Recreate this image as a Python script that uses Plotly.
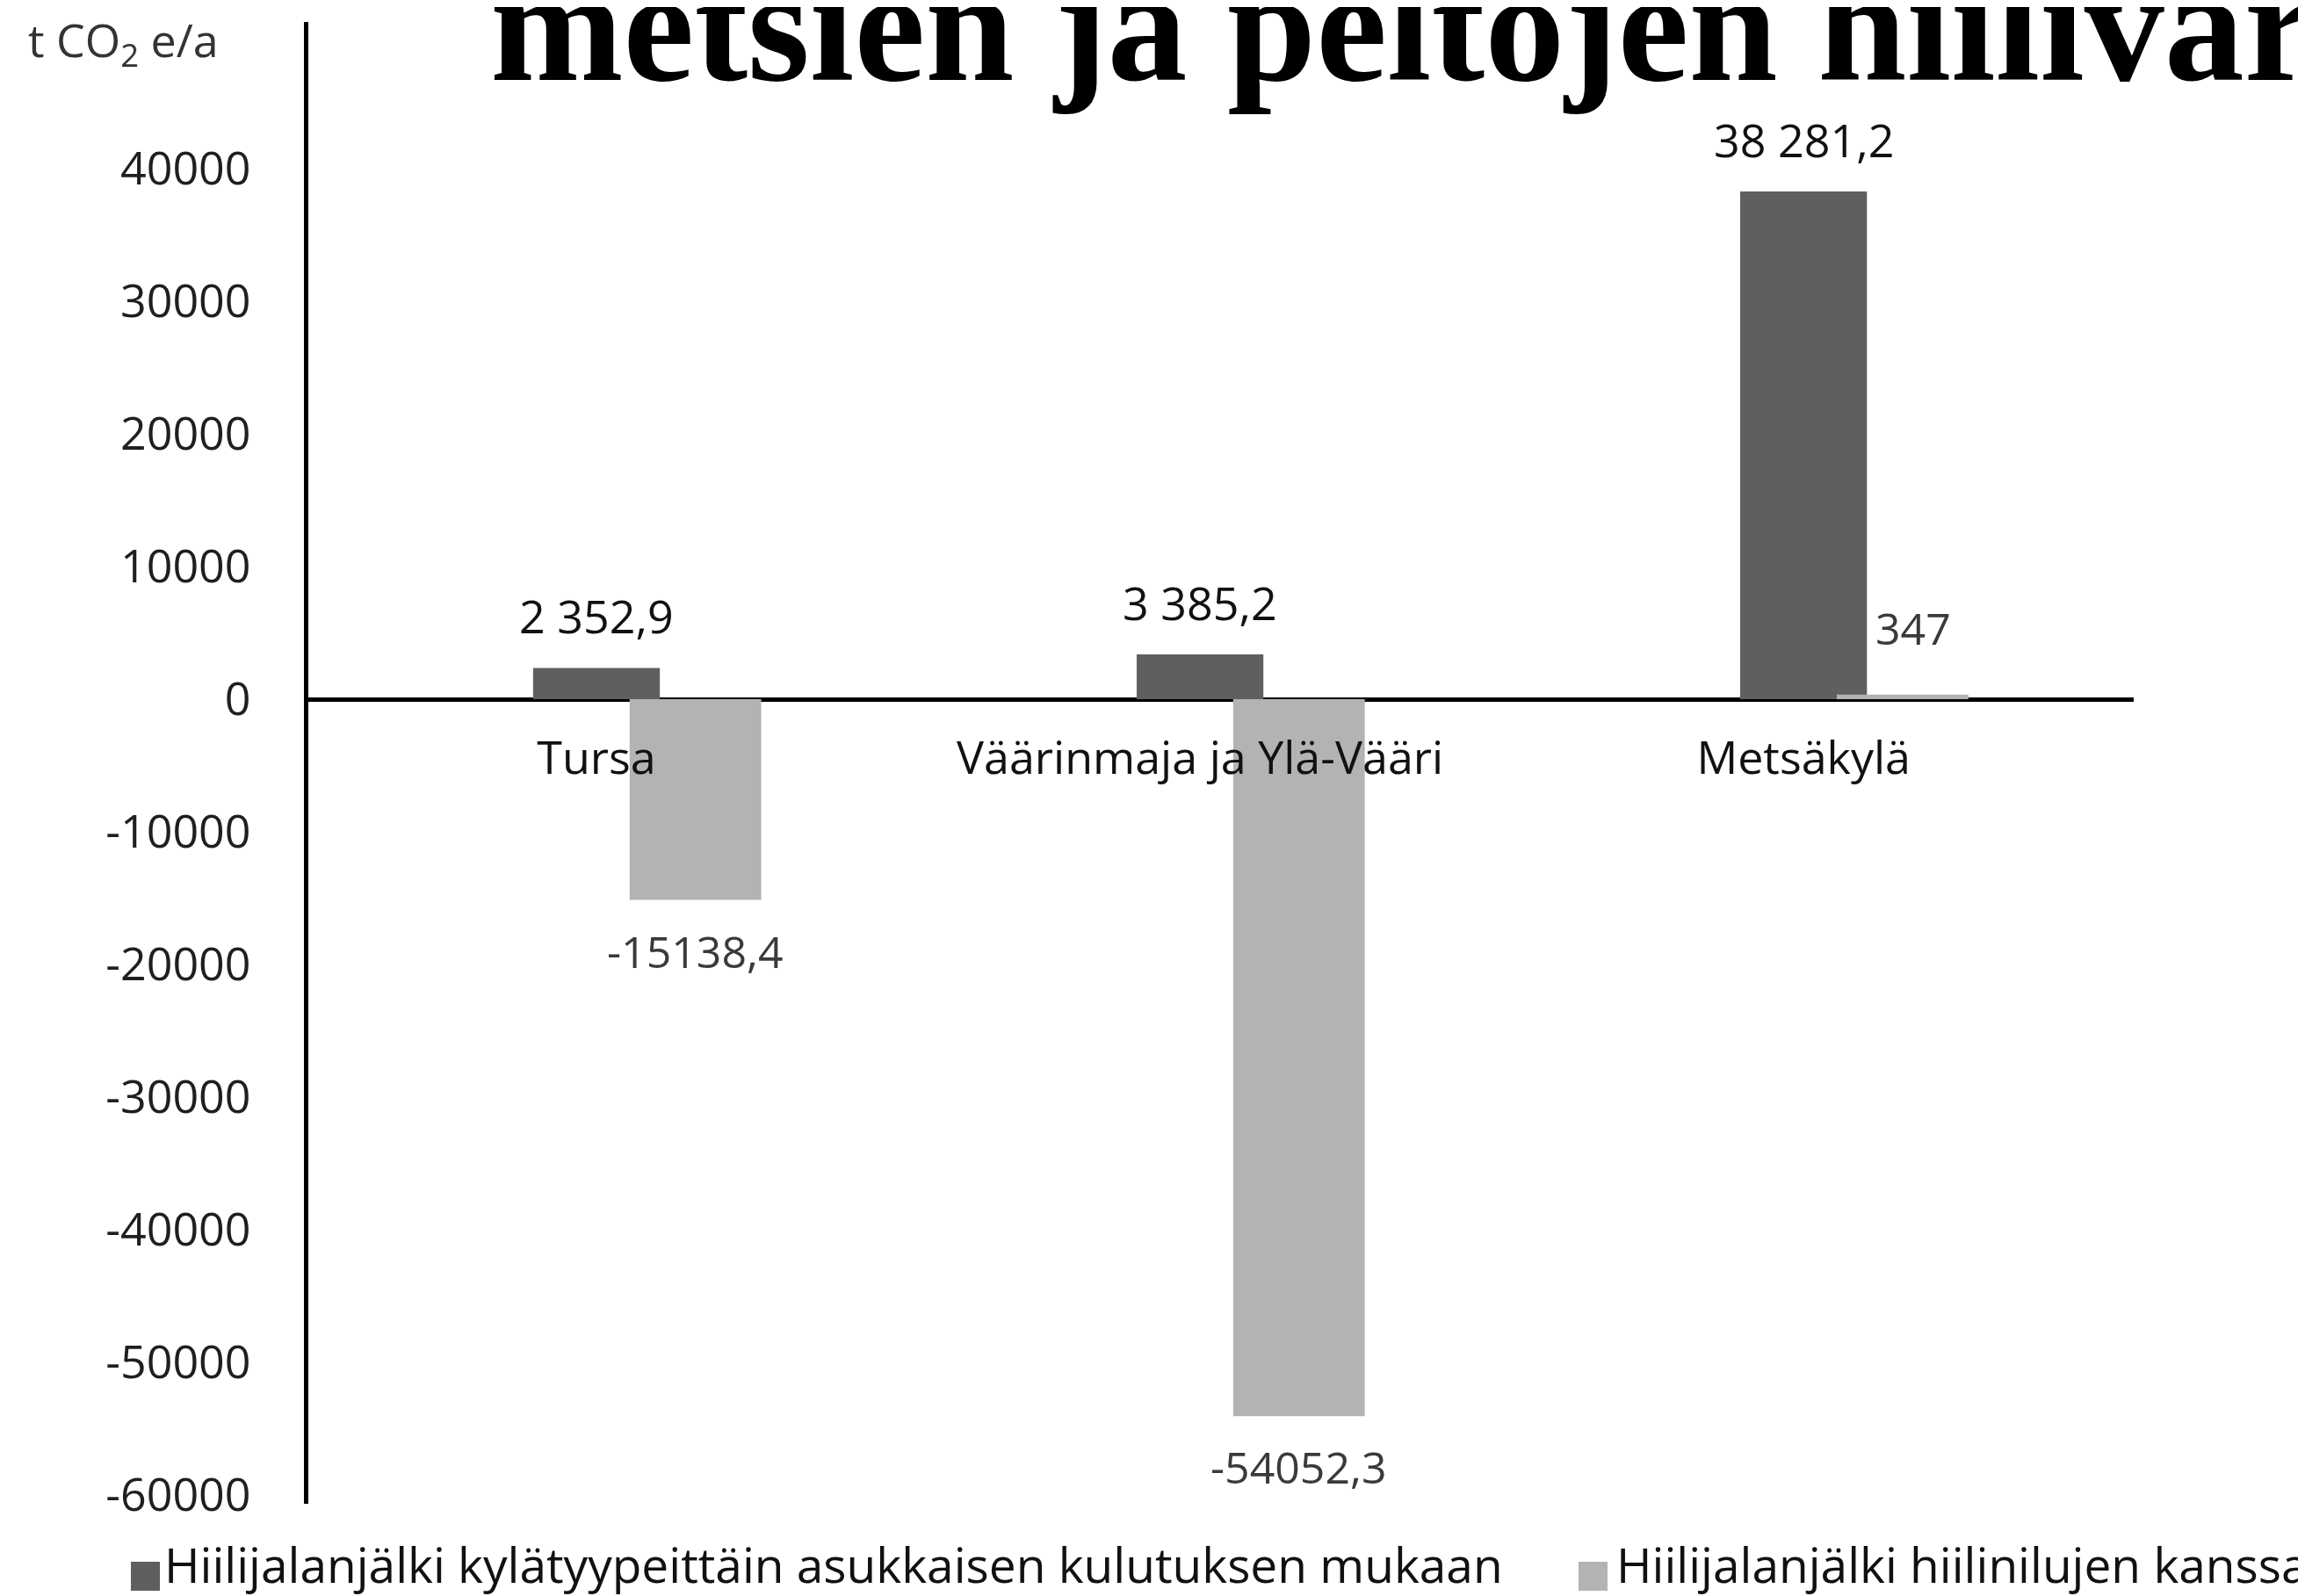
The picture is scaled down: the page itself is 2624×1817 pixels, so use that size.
import plotly.graph_objects as go

# ---- data ----
categories = ["Tursa", "Väärinmaja ja Ylä-Vääri", "Metsäkylä"]
series_names = ["Hiilijalanjälki kylätyypeittäin asukkaisen kulutuksen mukaan",
                "Hiilijalanjälki hiilinilujen kanssa"]
footprint = [2352.9, 3385.2, 38281.2]
with_sinks = [-15138.4, -54052.3, 347.0]
footprint_labels = ["2 352,9", "3 385,2", "38 281,2"]
sink_labels = ["-15138,4", "-54052,3", "347"]
y_ticks = [40000, 30000, 20000, 10000, 0, -10000, -20000, -30000, -40000, -50000, -60000]
y_tick_labels = ["40000", "30000", "20000", "10000", "0", "-10000", "-20000",
                 "-30000", "-40000", "-50000", "-60000"]
title_text = "metsien ja peltojen hiilivarastot"
unit_text = "t CO<sub>2</sub> e/a"

DARK = "#5f5f5f"
LIGHT = "#b3b3b3"
FONT = "Open Sans"

W, H = 2624, 1817
ML, MR, MT, MB = 343, 203, 17, 113
PW = W - ML - MR
PH = H - MT - MB
YR = [-60662, 51060]

dark_off, dark_w = -0.105, 0.21
light_off, light_w = 0.055, 0.218

fig = go.Figure()
fig.add_trace(go.Bar(x=categories, y=footprint, name=series_names[0],
                     marker=dict(color=DARK, line=dict(width=0)),
                     offset=dark_off, width=dark_w, showlegend=False))
fig.add_trace(go.Bar(x=categories, y=with_sinks, name=series_names[1],
                     marker=dict(color=LIGHT, line=dict(width=0)),
                     offset=light_off, width=light_w, showlegend=False))

ann = []
for i, (v, t) in enumerate(zip(footprint, footprint_labels)):
    ann.append(dict(x=i + dark_off + dark_w / 2, y=v, xref="x", yref="y", text=t,
                    showarrow=False, yanchor="bottom", yshift=22,
                    font=dict(family=FONT, size=52, color="#111111")))
for i, (v, t) in enumerate(zip(with_sinks, sink_labels)):
    ann.append(dict(x=i + light_off + light_w / 2, y=v, xref="x", yref="y", text=t,
                    showarrow=False,
                    yanchor="top" if v < 0 else "bottom",
                    yshift=-22 if v < 0 else 40,
                    xshift=0 if v < 0 else 12,
                    font=dict(family=FONT, size=50, color="#3a3a3a")))

def px_x(p):
    return (p - ML) / PW

def px_y(p):
    return (MT + PH - p) / PH

# title (clipped by the page edge, as in the original)
ann.append(dict(x=px_x(548), y=px_y(22), xref="paper", yref="paper", text="<b>" + title_text + "</b>",
                showarrow=False, xanchor="left", yanchor="middle",
                font=dict(family="Liberation Serif", size=182, color="#000000")))
# unit label
ann.append(dict(x=px_x(22), y=px_y(40), xref="paper", yref="paper", text=unit_text,
                showarrow=False, xanchor="left", yanchor="middle",
                font=dict(family=FONT, size=52, color="#333333")))

# legend (swatches + names)
shapes = []
legend_items = [(141, 177, DARK, series_names[0]), (1789, 1830, LIGHT, series_names[1])]
for sx, tx, col, name in legend_items:
    shapes.append(dict(type="rect", xref="paper", yref="paper",
                       x0=px_x(sx), x1=px_x(sx + 33), y0=px_y(1803), y1=px_y(1770),
                       fillcolor=col, line=dict(width=0)))
    ann.append(dict(x=px_x(tx), y=px_y(1772), xref="paper", yref="paper", text=name,
                    showarrow=False, xanchor="left", yanchor="middle",
                    font=dict(family=FONT, size=55, color="#111111")))

zero_pos = (0 - YR[0]) / (YR[1] - YR[0])

fig.update_layout(
    width=W, height=H,
    margin=dict(l=ML, r=MR, t=MT, b=MB, pad=0),
    paper_bgcolor="white", plot_bgcolor="white",
    barmode="overlay",
    annotations=ann,
    shapes=shapes,
    xaxis=dict(type="category", range=[-0.4774, 2.547], anchor="free", position=zero_pos,
               showline=False, showgrid=False, ticks="", zeroline=False,
               ticklabelstandoff=32,
               tickfont=dict(family=FONT, size=52, color="#111111")),
    yaxis=dict(range=YR, tickvals=y_ticks, ticktext=y_tick_labels,
               showline=True, linecolor="black", linewidth=5,
               showgrid=False, ticks="", zeroline=True, zerolinecolor="black",
               zerolinewidth=5, ticklabelstandoff=50,
               tickfont=dict(family=FONT, size=52, color="#1f1f1f")),
)

fig.write_html("out.html")
